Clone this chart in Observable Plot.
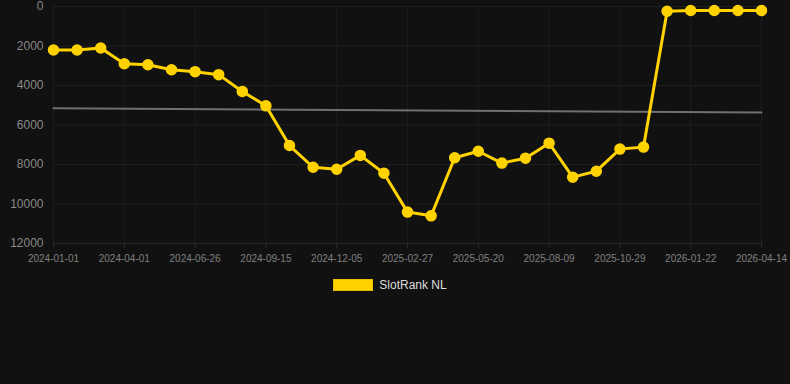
<!DOCTYPE html>
<html>
<head>
<meta charset="utf-8">
<script src="https://cdn.jsdelivr.net/npm/d3@7"></script>
<script src="https://cdn.jsdelivr.net/npm/@observablehq/plot@0.6"></script>
<style>
  html, body { margin: 0; padding: 0; background: #111111; }
  body { width: 790px; height: 384px; overflow: hidden; font-family: "Liberation Sans", Arial, Helvetica, sans-serif; }
  #chart svg { display: block; }
  #legend { display: flex; justify-content: center; align-items: center; margin-top: 8px; padding-right: 10px; gap: 6px; }
  #legend .sw { width: 38px; height: 10px; background: #FFD200; border: 1px solid #E5BC00; }
  #legend .lb { color: #DDDDDD; font-size: 12px; }
</style>
</head>
<body>
<div id="chart"></div>
<div id="legend"><span class="sw"></span><span class="lb">SlotRank NL</span></div>
<script>
const dates = [
  "2024-01-01","2024-01-31","2024-03-01","2024-04-01","2024-04-29","2024-05-28",
  "2024-06-26","2024-07-23","2024-08-19","2024-09-15","2024-10-12","2024-11-08",
  "2024-12-05","2025-01-02","2025-01-30","2025-02-27","2025-03-26","2025-04-23",
  "2025-05-20","2025-06-16","2025-07-13","2025-08-09","2025-09-05","2025-10-02",
  "2025-10-29","2025-11-26","2025-12-24","2026-01-22","2026-02-18","2026-03-17",
  "2026-04-14"
];
const ranks = [
  2200, 2200, 2100, 2900, 2950, 3200,
  3300, 3450, 4300, 5030, 7040, 8140,
  8240, 7540, 8440, 10410, 10600, 7660,
  7330, 7930, 7680, 6920, 8640, 8340,
  7220, 7120, 240, 200, 200, 200,
  200
];
const trendDates = ["2024-01-01", "2026-04-14"];
const trendValues = [5150, 5370];
const yTicks = [0, 2000, 4000, 6000, 8000, 10000, 12000];

// categorical (evenly spaced) date axis: position = index of the date label
const idx = d => dates.indexOf(d);
const tickIdx = dates.map((d, i) => i).filter(i => i % 3 === 0);

const series = dates.map((d, i) => ({date: d, value: ranks[i]}));
const trend = trendDates.map((d, i) => ({date: d, value: trendValues[i]}));

const chart = Plot.plot({
  width: 790,
  height: 270,
  marginLeft: 53,
  marginRight: 29,
  marginTop: 6,
  marginBottom: 27,
  style: {background: "#111111", color: "#888888", fontFamily: "'Liberation Sans', Arial, sans-serif"},
  x: {type: "linear", domain: [0, dates.length - 1], label: null},
  y: {domain: [0, 12000], reverse: true, label: null},
  marks: [
    Plot.gridY(yTicks, {stroke: "#1f1f1f", strokeOpacity: 1, strokeWidth: 1}),
    Plot.gridX(tickIdx, {stroke: "#1c1c1c", strokeOpacity: 1, strokeWidth: 1}),
    Plot.ruleY([12000], {stroke: "#2a2a2a"}),
    Plot.axisY(yTicks, {tickSize: 0, tickPadding: 10, fontSize: 12, fill: "#888888", tickFormat: d => String(d)}),
    Plot.axisX(tickIdx, {tickSize: 5, tickPadding: 6, fontSize: 10, fill: "#808080", stroke: "#2a2a2a", tickFormat: i => dates[i]}),
    Plot.line(trend, {x: d => idx(d.date), y: "value", stroke: "#707070", strokeWidth: 2}),
    Plot.line(series, {x: d => idx(d.date), y: "value", stroke: "#FFD200", strokeWidth: 3}),
    Plot.dot(series, {x: d => idx(d.date), y: "value", r: 5, fill: "#FFD200", stroke: "#FFD200"})
  ]
});
document.getElementById("chart").appendChild(chart);
</script>
</body>
</html>
